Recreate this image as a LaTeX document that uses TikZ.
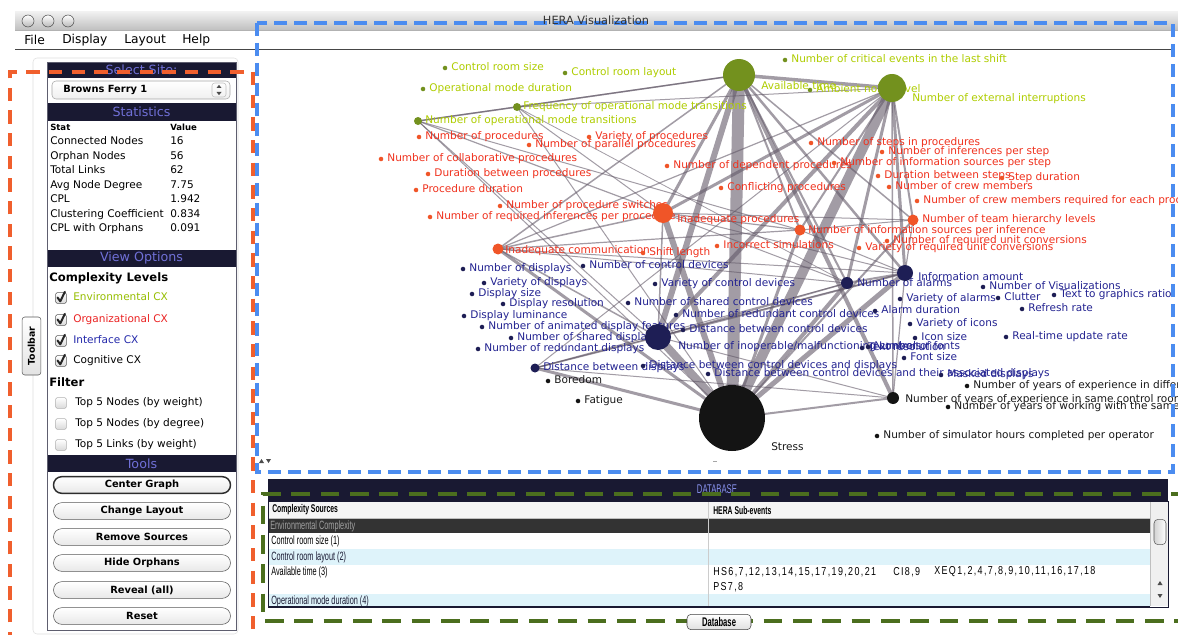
\documentclass[tikz,border=0pt]{standalone}
\usepackage{fontspec}
\setmainfont{DejaVu Sans}
\newfontfamily\dbfont[FakeStretch=0.61]{Liberation Sans}
\newfontfamily\dbnum[FakeStretch=0.78, LetterSpace=12]{Liberation Sans}
\usetikzlibrary{calc}

% category colours of the complexity graph
\definecolor{envtxt}{RGB}{175,205,0}
\definecolor{envdot}{RGB}{115,145,30}
\definecolor{orgtxt}{RGB}{240,50,30}
\definecolor{orgdot}{RGB}{240,85,40}
\definecolor{ifctxt}{RGB}{35,35,145}
\definecolor{ifcdot}{RGB}{30,30,85}
\definecolor{cogtxt}{RGB}{25,25,25}
\definecolor{cogdot}{RGB}{20,20,20}
\definecolor{edgec}{RGB}{100,90,105}
% interface colours
\definecolor{navy}{RGB}{25,25,50}
\definecolor{hdrtxt}{RGB}{112,112,215}
\definecolor{dbtxt}{RGB}{135,145,235}
\definecolor{dashorange}{RGB}{240,95,45}
\definecolor{dashblue}{RGB}{75,140,240}
\definecolor{dashgreen}{RGB}{75,110,30}
\definecolor{cxenv}{RGB}{150,190,0}
\definecolor{cxorg}{RGB}{235,35,35}
\definecolor{cxifc}{RGB}{35,40,170}
\definecolor{rowcyan}{RGB}{222,243,250}

\pgfdeclarelayer{base}
\pgfdeclarelayer{edges}
\pgfdeclarelayer{labels}
\pgfsetlayers{base,edges,labels,main}

% an unconnected source: small dot with its label to the right
\newcommand{\orph}[5]{%
  \node[dotn, fill=#4dot] (#1) at (#2,#3) {};
  \begin{pgfonlayer}{labels}
    \node[lbl, text=#4txt, anchor=west, xshift=4.6pt] (#1-t) at (#1.center) {#5};
  \end{pgfonlayer}}

\begin{document}
\begin{tikzpicture}[x=0.75pt,y=-0.75pt,
  lbl/.style={inner sep=0pt, font=\fontsize{7.9}{9}\selectfont, text height=5.7pt, text depth=1.5pt},
  stl/.style={lbl, anchor=west},
  dotn/.style={circle, inner sep=0pt, minimum size=3.4pt},
  hub/.style={circle, inner sep=0pt, minimum size=#1*1.5pt},
  lk/.style={draw=edgec, line width=#1*0.75pt, draw opacity=0.6},
  hdr/.style={fill=navy, text=hdrtxt, inner sep=0pt, minimum width=141.75pt, font=\fontsize{9.5}{11}\selectfont},
  menu/.style={anchor=west, inner sep=0pt, font=\fontsize{9.2}{11}\selectfont},
  chk/.style={rectangle, rounded corners=1.2pt, draw=gray!70!black, top color=white, bottom color=gray!30, minimum size=8.2pt, inner sep=0pt},
  tick/.style={draw=black!85, line width=1.5pt, line cap=round, line join=round},
  btn/.style={rounded corners=6.2pt, draw=gray!70!black, top color=white, bottom color=gray!18, minimum width=132.75pt, minimum height=12.5pt, inner sep=0pt, font=\bfseries\fontsize{7.4}{9}\selectfont},
  light/.style={circle, inner sep=0pt, minimum size=9pt, draw=gray!60!black, top color=white, bottom color=gray!55},
  dbt/.style={anchor=west, inner sep=0pt, font=\dbfont\fontsize{9}{10}\selectfont},
  dbn/.style={anchor=west, inner sep=0pt, font=\dbnum\fontsize{8.6}{10}\selectfont},
  tri/.style={fill=black!70}
]
\useasboundingbox (0,0) rectangle (1178,635);
\begin{pgfonlayer}{base}
  \fill[white] (0,0) rectangle (1178,635);
\end{pgfonlayer}

% ---------------- window title bar and menu ----------------
\shade[top color=gray!12, bottom color=gray!50] (15,12) rectangle (1178,30);
\draw[gray!60] (15,30) -- (1178,30);
\foreach \cx [count=\i] in {28,48,68} \node[light] (tl\i) at (\cx,21) {};
\node[menu] (mFile) at (24,40) {File};
\node[menu] (mDisplay) at (62,40) {Display};
\node[menu] (mLayout) at (124,40) {Layout};
\node[menu] (mHelp) at (182,40) {Help};
\draw[line width=1.4pt, gray!55!black] (15,49.5) -- (1173,49.5);

% ---------------- left tool panel ----------------
\draw[gray!25, rounded corners=3pt] (33,58) rectangle (238,634);
\node[hdr, minimum height=12pt] (hSite) at (141.5,70) {Select Site:};
\node[draw=gray!70, rounded corners=3pt, top color=white, bottom color=gray!12, minimum width=133.5pt, minimum height=13.5pt, inner sep=0pt] (site) at (141,90) {};
\node[anchor=west, inner sep=0pt, font=\bfseries\fontsize{7.4}{9}\selectfont] (siteName) at (63,90) {Browns Ferry 1};
\draw[gray!50, rounded corners=2pt] (212,83) rectangle (226,97);
\fill[tri] (216.5,88) -- (221.5,88) -- (219,84.8) -- cycle;
\fill[tri] (216.5,92) -- (221.5,92) -- (219,95.2) -- cycle;

\node[hdr, minimum height=13.5pt] (hStat) at (141.5,112) {Statistics};
\fill[white] (48,121) rectangle (235,248);
\node[anchor=west, inner sep=0pt, font=\bfseries\fontsize{6.4}{8}\selectfont] (stHead) at (50,127) {Stat};
\node[anchor=west, inner sep=0pt, font=\bfseries\fontsize{6.4}{8}\selectfont] (valHead) at (170,127) {Value};
\foreach \s/\v [count=\i] in {Connected Nodes/16, Orphan Nodes/56, Total Links/62, Avg Node Degree/7.75, CPL/1.942, Clustering Coefficient/0.834, CPL with Orphans/0.091} {
  \node[stl] (sl\i) at (50,127.5+14.5*\i) {\s};
  \node[stl] (sv\i) at (170,127.5+14.5*\i) {\v};
}

\node[hdr, minimum height=12.75pt] (hView) at (141.5,258.5) {View Options};
\node[anchor=west, inner sep=0pt, font=\bfseries\fontsize{8.7}{10}\selectfont] (cxl) at (49,278) {Complexity Levels};
\foreach \yy/\lt/\tc [count=\i] in {298/Environmental CX/cxenv, 320/Organizational CX/cxorg, 341/Interface CX/cxifc, 361/Cognitive CX/black} {
  \node[chk] (cb\i) at (61,\yy) {};
  \draw[tick] ([shift={(-3.5,-0.5)}]cb\i.center) -- ++(2.8,3.8) -- ++(4.6,-9.5);
  \node[stl, text=\tc] (cbl\i) at (73,\yy) {\lt};
}
\node[anchor=west, inner sep=0pt, font=\bfseries\fontsize{8.7}{10}\selectfont] (flt) at (49,382) {Filter};
\foreach \yy/\lt [count=\i] in {403/Top 5 Nodes (by weight), 424/Top 5 Nodes (by degree), 445/Top 5 Links (by weight)} {
  \node[chk, draw=gray!60] (fb\i) at (61,\yy) {};
  \node[stl] (fbl\i) at (75,\yy) {\lt};
}

\node[hdr, minimum height=12.75pt] (hTools) at (141.5,463.5) {Tools};
\node[btn, line width=1.1pt, draw=gray!35!black] (bCenter) at (142,485) {Center Graph};
\node[btn] (bLayout) at (142,511) {Change Layout};
\node[btn] (bRemove) at (142,537) {Remove Sources};
\node[btn] (bHide) at (142,563) {Hide Orphans};
\node[btn] (bReveal) at (142,590) {Reveal (all)};
\node[btn] (bReset) at (142,616) {Reset};
\draw[navy!70, line width=0.6pt] (47,62) rectangle (236,630);

\node[rounded corners=2pt, draw=gray!70!black, top color=white, bottom color=gray!22, minimum width=43.5pt, minimum height=14pt, inner sep=0pt, rotate=90, font=\bfseries\fontsize{7}{8}\selectfont] (toolbar) at (31.5,346) {Toolbar};

% ---------------- complexity network ----------------
\node[hub=16, fill=envdot] (AT) at (739,75) {};
\node[hub=14, fill=envdot] (NEI) at (892,88) {};
\node[hub=4, fill=envdot] (FOMT) at (517,107) {};
\node[hub=4, fill=envdot] (NOMT) at (418,121) {};
\node[hub=10, fill=orgdot] (IP) at (663,213) {};
\node[hub=5.5, fill=orgdot] (IC) at (498,249) {};
\node[hub=5.5, fill=orgdot] (NTHL) at (913,220) {};
\node[hub=5.5, fill=orgdot] (NISI) at (800,230) {};
\node[hub=8, fill=ifcdot] (IA) at (905,273) {};
\node[hub=6, fill=ifcdot] (NA) at (847,283) {};
\node[hub=13, fill=ifcdot] (NIMC) at (658,337) {};
\node[hub=4.5, fill=ifcdot] (DBD) at (535,368) {};
\node[hub=33, fill=cogdot] (ST) at (732,418) {};
\node[hub=6, fill=cogdot] (NYE) at (893,398) {};

\begin{pgfonlayer}{edges}
\foreach \a/\b/\w in {AT/ST/12, NEI/ST/10, NIMC/ST/8, IP/ST/6, AT/NIMC/6, IA/ST/5, NA/ST/4, NEI/NIMC/4,
  AT/NYE/4, AT/NEI/3.5, AT/IP/3, NEI/IP/3, IC/ST/3, DBD/ST/3, NISI/ST/3, NEI/IA/3, NEI/NA/3,
  AT/IA/2.5, AT/NA/2, NYE/ST/2, NTHL/ST/2, NEI/NTHL/2, NEI/NISI/2, AT/NISI/2, NA/IA/2, NIMC/IA/2,
  NEI/NYE/1.5, AT/NTHL/1.5, AT/IC/1.5, IC/IP/1.5, IC/NIMC/1.5, NOMT/FOMT/1.5, FOMT/AT/1.5,
  IP/NIMC/1.5, NIMC/NA/1.5, DBD/NIMC/1.5, NEI/IC/1.2, IC/NISI/1.2, NOMT/AT/1.2, NOMT/IP/1.2,
  IP/NISI/1.2, NTHL/IA/1.2, NYE/IA/1.2, IC/NA/1, IC/IA/1, FOMT/NEI/1, NOMT/NISI/1, NOMT/ST/1,
  FOMT/IP/1, FOMT/ST/1, NOMT/NIMC/1, IP/NTHL/1, IP/NA/1, IP/IA/1, NISI/NTHL/1, NISI/IA/1,
  DBD/IA/1, DBD/NA/1, DBD/NEI/1, NYE/NIMC/1, NYE/DBD/1, FOMT/NA/0.8}
  \draw[lk=\w] (\a.center) -- (\b.center);
\end{pgfonlayer}

\begin{pgfonlayer}{labels}
  \node[lbl, anchor=west, text=envtxt] (AT-t) at (761,87) {Available time};
  \node[lbl, anchor=west, text=envtxt] (NEI-t) at (912,99) {Number of external interruptions};
  \node[lbl, anchor=west, text=envtxt] (FOMT-t) at (523,107) {Frequency of operational mode transitions};
  \node[lbl, anchor=west, text=envtxt] (NOMT-t) at (425,121) {Number of operational mode transitions};
  \node[lbl, anchor=west, text=orgtxt] (IP-t) at (677,220) {Inadequate procedures};
  \node[lbl, anchor=west, text=orgtxt] (IC-t) at (505,251) {Inadequate communication};
  \node[lbl, anchor=west, text=orgtxt] (NTHL-t) at (922,220) {Number of team hierarchy levels};
  \node[lbl, anchor=west, text=orgtxt] (NISI-t) at (808,231) {Number of information sources per inference};
  \node[lbl, anchor=west, text=ifctxt] (IA-t) at (918,278) {Information amount};
  \node[lbl, anchor=west, text=ifctxt] (NA-t) at (857,284) {Number of alarms};
  \node[lbl, anchor=west, text=ifctxt] (NIMC-t) at (678,347) {Number of inoperable/malfunctioning controls};
  \node[lbl, anchor=west, text=ifctxt] (DBD-t) at (543,368) {Distance between displays};
  \node[lbl, anchor=west, text=cogtxt] (ST-t) at (771,448) {Stress};
  \node[lbl, anchor=west, text=cogtxt] (NYE-t) at (905,400) {Number of years of experience in same control room};
\end{pgfonlayer}

% environmental sources
\orph{e1}{445}{68}{env}{Control room size}
\orph{e2}{565}{73}{env}{Control room layout}
\orph{e3}{423}{89}{env}{Operational mode duration}
\orph{e4}{785}{60}{env}{Number of critical events in the last shift}
\orph{e5}{810}{90}{env}{Ambient noise level}
% organizational sources
\orph{o1}{419}{137}{org}{Number of procedures}
\orph{o2}{589}{137}{org}{Variety of procedures}
\orph{o3}{529}{145}{org}{Number of parallel procedures}
\orph{o4}{381}{159}{org}{Number of collaborative procedures}
\orph{o5}{667}{166}{org}{Number of dependent procedures}
\orph{o6}{428}{174}{org}{Duration between procedures}
\orph{o7}{416}{190}{org}{Procedure duration}
\orph{o8}{721}{188}{org}{Conflicting procedures}
\orph{o9}{500}{206}{org}{Number of procedure switches}
\orph{o10}{430}{217}{org}{Number of required inferences per procedure}
\orph{o11}{643}{253}{org}{Shift length}
\orph{o12}{717}{246}{org}{Incorrect simulations}
\orph{o13}{811}{143}{org}{Number of steps in procedures}
\orph{o14}{882}{152}{org}{Number of inferences per step}
\orph{o15}{834}{163}{org}{Number of information sources per step}
\orph{o16}{878}{176}{org}{Duration between steps}
\orph{o17}{1002}{178}{org}{Step duration}
\orph{o18}{889}{187}{org}{Number of crew members}
\orph{o19}{917}{201}{org}{Number of crew members required for each procedure}
\orph{o20}{887}{241}{org}{Number of required unit conversions}
\orph{o21}{859}{248}{org}{Variety of required unit conversions}
% interface sources
\orph{i1}{463}{269}{ifc}{Number of displays}
\orph{i2}{583}{266}{ifc}{Number of control devices}
\orph{i3}{484}{283}{ifc}{Variety of displays}
\orph{i4}{655}{284}{ifc}{Variety of control devices}
\orph{i5}{472}{294}{ifc}{Display size}
\orph{i6}{503}{304}{ifc}{Display resolution}
\orph{i7}{628}{303}{ifc}{Number of shared control devices}
\orph{i8}{983}{287}{ifc}{Number of Visualizations}
\orph{i9}{900}{299}{ifc}{Variety of alarms}
\orph{i10}{998}{298}{ifc}{Clutter}
\orph{i11}{1054}{295}{ifc}{Text to graphics ratio}
\orph{i12}{464}{316}{ifc}{Display luminance}
\orph{i13}{676}{315}{ifc}{Number of redundant control devices}
\orph{i14}{875}{311}{ifc}{Alarm duration}
\orph{i15}{1022}{309}{ifc}{Refresh rate}
\orph{i16}{910}{324}{ifc}{Variety of icons}
\orph{i17}{482}{327}{ifc}{Number of animated display features}
\orph{i18}{683}{330}{ifc}{Distance between control devices}
\orph{i19}{511}{338}{ifc}{Number of shared displays}
\orph{i20}{478}{349}{ifc}{Number of redundant displays}
\orph{i21}{915}{338}{ifc}{Icon size}
\orph{i22}{1006}{337}{ifc}{Real-time update rate}
\orph{i23}{862}{348}{ifc}{Text resolution}
\orph{i24}{868}{347}{ifc}{Number of fonts}
\orph{i25}{904}{358}{ifc}{Font size}
\orph{i26}{643}{366}{ifc}{Distance between control devices and displays}
\orph{i27}{708}{374}{ifc}{Distance between control devices and their associated displays}
\orph{i28}{941}{375}{ifc}{Masked displays}
% cognitive sources
\orph{c1}{548}{381}{cog}{Boredom}
\orph{c2}{578}{401}{cog}{Fatigue}
\orph{c3}{967}{386}{cog}{Number of years of experience in different control rooms}
\orph{c4}{948}{407}{cog}{Number of years of working with the same crew}
\orph{c5}{877}{436}{cog}{Number of simulator hours completed per operator}

% split-pane handles
\fill[tri] (259,463) -- (264,463) -- (261.5,459) -- cycle;
\fill[tri] (266,459) -- (271,459) -- (268.5,463) -- cycle;
\draw[gray!70] (713,461) -- (717,461);

% ---------------- database panel ----------------
\node[fill=navy, minimum width=675pt, minimum height=16.5pt, inner sep=0pt] (dbHead) at (718,490) {};
\node[inner sep=0pt, text=dbtxt, font=\dbfont\fontsize{9.5}{11}\selectfont] (dbTitle) at (717,489) {DATABASE};
\node[draw=navy, fill=white, minimum width=675pt, minimum height=79.5pt, inner sep=0pt] (dbTable) at (718,554) {};
\fill[gray!8] (269,502) rectangle (1150,518);
\fill[black!80] (269,518) rectangle (1150,533);
\fill[rowcyan] (269,549) rectangle (1150,565);
\fill[rowcyan] (269,594) rectangle (1150,606);
\draw[gray!50] (269,518) -- (1150,518);
\draw[gray!40] (708,502) -- (708,606);
\draw[navy, line width=0.9pt] (269,606.5) -- (1150,606.5);
\node[dbt, font=\dbfont\bfseries\fontsize{8.4}{10}\selectfont] (colA) at (272,510) {Complexity Sources};
\node[dbt, font=\dbfont\bfseries\fontsize{8.4}{10}\selectfont] (colB) at (713,510) {HERA Sub-events};
\node[dbt, text=gray!75] (r0) at (270,526) {Environmental Complexity};
\node[dbt] (r1) at (271,541) {Control room size (1)};
\node[dbt, text=navy] (r2) at (271,557) {Control room layout (2)};
\node[dbt] (r3) at (271,572) {Available time (3)};
\node[dbn] (r3a) at (713,572) {HS6,7,12,13,14,15,17,19,20,21};
\node[dbn] (r3b) at (893,572) {CI8,9};
\node[dbn] (r3c) at (934,572) {XEQ1,2,4,7,8,9,10,11,16,17,18};
\node[dbn] (r3d) at (713,587) {PS7,8};
\node[dbt, text=navy] (r4) at (271,601) {Operational mode duration (4)};
\fill[gray!12] (1151,502) rectangle (1168,606);
\draw[gray!50] (1150.5,502) -- (1150.5,606);
\node[rounded corners=3pt, draw=gray!70!black, left color=gray!35, right color=white, minimum width=9pt, minimum height=19pt, inner sep=0pt] (thumb) at (1160,532) {};
\fill[tri] (1157.5,585) -- (1162.5,585) -- (1160,581) -- cycle;
\fill[tri] (1157.5,594) -- (1162.5,594) -- (1160,598) -- cycle;

% ---------------- dashed region outlines ----------------
\draw[dashblue, line width=2.4pt, dash pattern=on 10pt off 5pt] (257,23) rectangle (1173,472);
\draw[dashorange, line width=3pt, dash pattern=on 10pt off 7pt] (10,645) -- (10,72) -- (253,72) -- (253,645);
\draw[dashgreen, line width=3pt, dash pattern=on 14pt off 8pt] (1190,494) -- (263,494) -- (263,621) -- (1190,621);

\node[rounded corners=3pt, draw=gray!50!black, top color=white, bottom color=gray!25, minimum width=48pt, minimum height=11.5pt, inner sep=0pt, font=\dbfont\bfseries\fontsize{9.4}{11}\selectfont] (dbBtn) at (719,622) {Database};
\node[inner sep=0pt, text=black!80, font=\fontsize{8.5}{10}\selectfont] (title) at (596,20) {HERA Visualization};
\end{tikzpicture}
\end{document}
